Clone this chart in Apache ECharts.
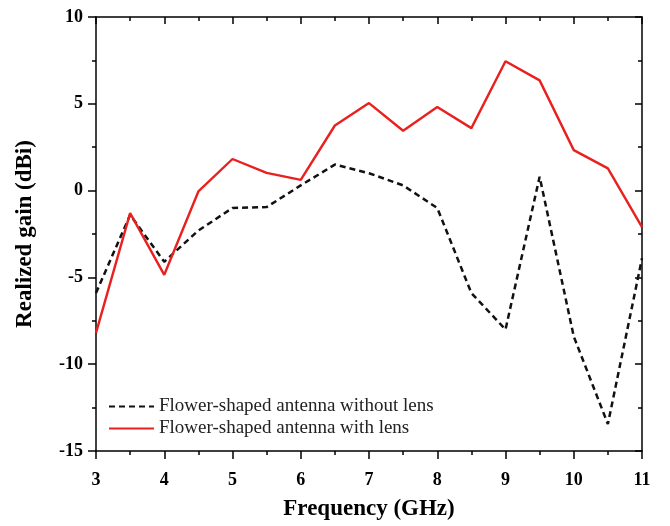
<!DOCTYPE html>
<html>
<head>
<meta charset="utf-8">
<script src="https://cdn.jsdelivr.net/npm/echarts@6/dist/echarts.min.js"></script>
<style>
html,body{margin:0;padding:0;background:#fff;}
#chart{width:670px;height:526px;}
</style>
</head>
<body>
<div id="chart"></div>
<script>
// Frequency points (GHz)
var frequency = [3, 3.5, 4, 4.5, 5, 5.5, 6, 6.5, 7, 7.5, 8, 8.5, 9, 9.5, 10, 10.5, 11];
// Realized gain (dBi)
var withoutLens = [-5.9, -1.4, -4.1, -2.3, -1.0, -0.95, 0.3, 1.5, 1.0, 0.3, -1.0, -5.9, -8.0, 0.8, -8.4, -13.45, -3.9];
var withLens = [-8.2, -1.3, -4.85, -0.05, 1.82, 1.02, 0.62, 3.75, 5.04, 3.45, 4.81, 3.6, 7.45, 6.35, 2.33, 1.28, -2.1];
var seriesNames = ['Flower-shaped antenna without lens', 'Flower-shaped antenna with lens'];
var xTitle = 'Frequency (GHz)';
var yTitle = 'Realized gain (dBi)';

function pairs(xs, ys){ return xs.map(function(x,i){ return [x, ys[i]]; }); }

var FONT = '"Liberation Serif", "Times New Roman", serif';
var axisLineStyle = {color:'#000', width:1.5};

var chart = echarts.init(document.getElementById('chart'), null, {renderer:'canvas'});
chart.setOption({
  animation:false,
  backgroundColor:'#fff',
  grid:{left:96, right:28, top:17, bottom:72},
  legend:{
    orient:'vertical', left:103, top:392, itemWidth:45, itemHeight:14, itemGap:3,
    itemStyle:{opacity:0},
    textStyle:{fontFamily:FONT, fontSize:19, color:'#222'},
    data:seriesNames
  },
  xAxis:[{
    type:'value', min:3, max:11, interval:1, position:'bottom',
    name:xTitle, nameLocation:'middle', nameGap:47,
    nameTextStyle:{fontFamily:FONT, fontSize:23, fontWeight:'bold', color:'#000'},
    axisLine:{show:true, onZero:false, lineStyle:axisLineStyle},
    axisTick:{show:true, inside:false, length:8, lineStyle:axisLineStyle},
    minorTick:{show:true, splitNumber:2, length:4, lineStyle:axisLineStyle},
    axisLabel:{fontFamily:FONT, fontSize:18, fontWeight:'bold', color:'#000', margin:20},
    splitLine:{show:false}
  },{
    type:'value', min:3, max:11, interval:1, position:'top',
    axisLine:{show:true, onZero:false, lineStyle:axisLineStyle},
    axisTick:{show:true, inside:true, length:7, lineStyle:axisLineStyle},
    minorTick:{show:true, splitNumber:2, length:4, lineStyle:axisLineStyle},
    axisLabel:{show:false}, splitLine:{show:false}
  }],
  yAxis:[{
    type:'value', min:-15, max:10, interval:5, position:'left',
    name:yTitle, nameLocation:'middle', nameGap:59,
    nameTextStyle:{fontFamily:FONT, fontSize:23, fontWeight:'bold', color:'#000'},
    axisLine:{show:true, onZero:false, lineStyle:axisLineStyle},
    axisTick:{show:true, inside:false, length:8, lineStyle:axisLineStyle},
    minorTick:{show:true, splitNumber:2, length:4, lineStyle:axisLineStyle},
    axisLabel:{fontFamily:FONT, fontSize:18, fontWeight:'bold', color:'#000', margin:13},
    splitLine:{show:false}
  },{
    type:'value', min:-15, max:10, interval:5, position:'right',
    axisLine:{show:true, onZero:false, lineStyle:axisLineStyle},
    axisTick:{show:true, inside:true, length:7, lineStyle:axisLineStyle},
    minorTick:{show:true, splitNumber:2, length:4, lineStyle:axisLineStyle},
    axisLabel:{show:false}, splitLine:{show:false}
  }],
  series:[{
    name:seriesNames[0], type:'line', symbol:'none',
    data:pairs(frequency, withoutLens),
    itemStyle:{color:'#111'},
    lineStyle:{color:'#111', width:2.5, type:[6,4]}
  },{
    name:seriesNames[1], type:'line', symbol:'none',
    data:pairs(frequency, withLens),
    itemStyle:{color:'#e8211f'},
    lineStyle:{color:'#e8211f', width:2.4, type:'solid'}
  }]
});
</script>
</body>
</html>
